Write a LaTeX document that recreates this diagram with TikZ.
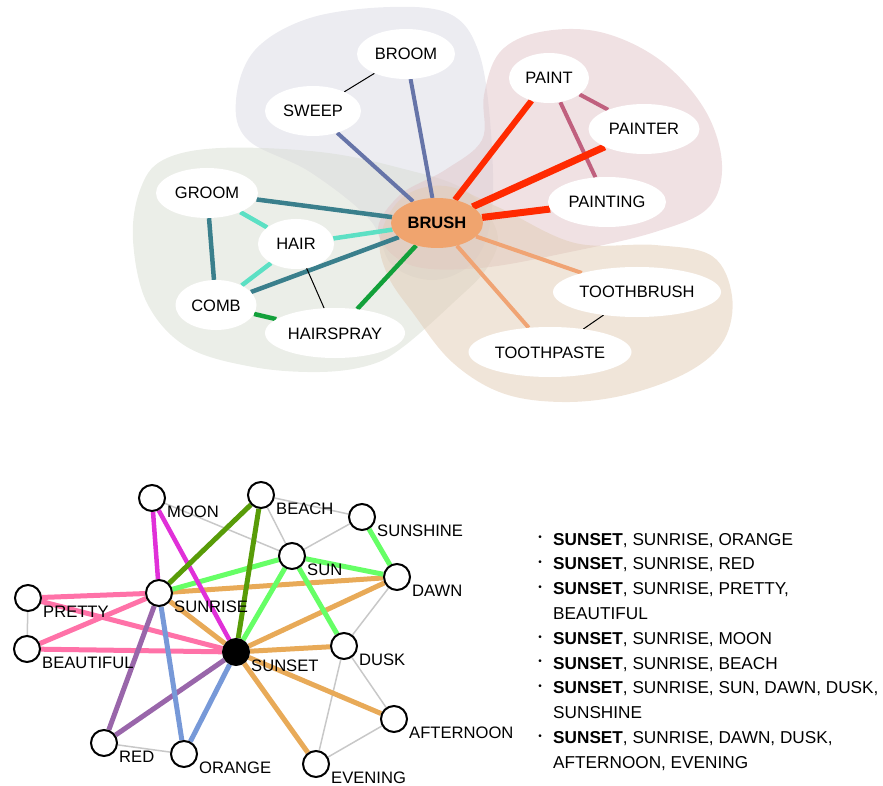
\documentclass[tikz,border=0pt]{standalone}
\usepackage{fontspec}
\setmainfont{Liberation Sans}
\usetikzlibrary{shapes.geometric}
\definecolor{lavc}{RGB}{217,217,228}
\definecolor{pinkc}{RGB}{225,196,200}
\definecolor{greenc}{RGB}{216,221,210}
\definecolor{tanc}{RGB}{226,204,180}
\definecolor{brushc}{RGB}{240,164,110}
\definecolor{slatec}{RGB}{102,116,168}
\definecolor{tealc}{RGB}{58,127,140}
\definecolor{turqc}{RGB}{92,224,196}
\definecolor{grnc}{RGB}{18,160,58}
\definecolor{redc}{RGB}{255,42,0}
\definecolor{mauvec}{RGB}{192,96,126}
\definecolor{lorc}{RGB}{240,164,116}
\definecolor{bpink}{RGB}{255,114,168}
\definecolor{bmag}{RGB}{224,48,216}
\definecolor{bdgreen}{RGB}{88,156,8}
\definecolor{blgreen}{RGB}{102,255,102}
\definecolor{btan}{RGB}{232,170,88}
\definecolor{bpurple}{RGB}{153,102,170}
\definecolor{bblue}{RGB}{119,153,216}
\definecolor{bgray}{RGB}{200,200,200}
\pgfdeclarelayer{blobs}
\pgfdeclarelayer{edges}
\pgfsetlayers{blobs,edges,main}
\begin{document}
\begin{tikzpicture}[x=1pt,y=-1pt,
  wnode/.style={ellipse, fill=white, inner sep=0pt, minimum height=50pt,
    text height=12pt, text depth=0pt, font=\fontsize{16.5}{19}\selectfont},
  cnode/.style={circle, draw=black, line width=2pt, fill=white, minimum size=26pt, inner sep=0pt},
  lbl/.style={anchor=base west, inner sep=0pt, font=\fontsize{16.6}{19}\selectfont},
  litem/.style={anchor=base west, inner sep=0pt, font=\fontsize{17.2}{20}\selectfont},
  bul/.style={anchor=base, inner sep=0pt, font=\fontsize{10}{12}\selectfont},
  thin/.style={black, line width=1pt},
  bedge/.style={line width=5pt},
  gedge/.style={bgray, line width=1.5pt}
]
\useasboundingbox (0,0) rectangle (883,786);

% ---------- top graph nodes ----------
\node[wnode, minimum width=98pt]  (broom) at (406,54) {BROOM};
\node[wnode, minimum width=96pt]  (sweep) at (313,111) {SWEEP};
\node[wnode, minimum width=102pt] (groom) at (207,193) {GROOM};
\node[wnode, minimum width=76pt]  (hair) at (296,244) {HAIR};
\node[wnode, minimum width=81pt]  (comb) at (216,305) {COMB};
\node[wnode, minimum width=140pt] (hairspray) at (335,333) {HAIRSPRAY};
\node[wnode, minimum width=92pt, fill=brushc, font=\fontsize{16.5}{19}\selectfont\bfseries] (brush) at (437,223) {BRUSH};
\node[wnode, minimum width=80pt]  (paint) at (549,78) {PAINT};
\node[wnode, minimum width=111pt] (painter) at (644,129) {PAINTER};
\node[wnode, minimum width=118pt] (painting) at (607,202) {PAINTING};
\node[wnode, minimum width=168pt] (toothbrush) at (637,292) {TOOTHBRUSH};
\node[wnode, minimum width=163pt] (toothpaste) at (550,352) {TOOTHPASTE};

\begin{pgfonlayer}{blobs}
\fill[lavc, fill opacity=.5] plot[smooth cycle, tension=.6] coordinates {(236,100) (255,50) (310,18) (390,7) (450,14) (478,50) (490,120) (492,210) (475,260) (435,280) (392,265) (370,220) (310,172) (248,140)};
\fill[greenc, fill opacity=.5] plot[smooth cycle, tension=.6] coordinates {(140,190) (163,160) (220,148) (320,152) (400,168) (465,190) (497,232) (487,268) (453,303) (403,347) (370,365) (320,372) (253,367) (187,347) (147,303) (133,240)};
\fill[pinkc, fill opacity=.5] plot[smooth cycle, tension=.6] coordinates {(484,95) (500,52) (540,32) (600,32) (660,60) (705,110) (722,165) (708,208) (655,232) (570,252) (480,268) (410,265) (378,232) (400,195) (445,170) (482,140)};
\fill[tanc, fill opacity=.5] plot[smooth cycle, tension=.6] coordinates {(380,238) (402,198) (445,186) (500,208) (575,243) (655,245) (712,256) (732,296) (724,340) (688,372) (625,395) (562,402) (502,393) (452,362) (413,313) (388,276)};
\end{pgfonlayer}

\begin{pgfonlayer}{edges}
\draw[slatec, line width=4pt] (sweep) -- (brush);
\draw[slatec, line width=4pt] (broom) -- (brush);
\draw[tealc, line width=4.5pt] (groom) -- (brush);
\draw[tealc, line width=4.5pt] (comb) -- (brush);
\draw[tealc, line width=4.5pt] (groom) -- (comb);
\draw[turqc, line width=4.5pt] (groom) -- (hair);
\draw[turqc, line width=4.5pt] (hair) -- (comb);
\draw[turqc, line width=4.5pt] (hair) -- (brush);
\draw[grnc, line width=4.5pt] (comb) -- (hairspray);
\draw[grnc, line width=4.5pt] (hairspray) -- (brush);
\draw[mauvec, line width=4pt] (paint) -- (painter);
\draw[mauvec, line width=4pt] (paint) -- (painting);
\draw[redc, line width=6pt] (paint) -- (brush);
\draw[redc, line width=7pt] (painter) -- (brush);
\draw[redc, line width=7pt] (painting) -- (brush);
\draw[lorc, line width=4pt] (toothbrush) -- (brush);
\draw[lorc, line width=4pt] (toothpaste) -- (brush);
\draw[thin] (sweep) -- (broom);
\draw[thin] (hair) -- (hairspray);
\draw[thin] (toothbrush) -- (toothpaste);
\end{pgfonlayer}

% ---------- bottom graph nodes ----------
\node[cnode] (moon) at (152,498) {};
\node[cnode] (beach) at (261,495) {};
\node[cnode] (sunshine) at (362,517) {};
\node[cnode] (sun) at (292,556) {};
\node[cnode] (dawn) at (397,577) {};
\node[cnode] (sunrise) at (159,593) {};
\node[cnode] (pretty) at (28,598) {};
\node[cnode] (beautiful) at (27,649) {};
\node[cnode, fill=black] (sunset) at (236,652) {};
\node[cnode] (dusk) at (344,646) {};
\node[cnode] (afternoon) at (394,719) {};
\node[cnode] (red) at (104,743) {};
\node[cnode] (orange) at (184,754) {};
\node[cnode] (evening) at (316,764) {};

\node[lbl] (moonL) at ([shift={(15,19)}]moon.center) {MOON};
\node[lbl] (beachL) at ([shift={(15,19)}]beach.center) {BEACH};
\node[lbl] (sunshineL) at ([shift={(15,19)}]sunshine.center) {SUNSHINE};
\node[lbl] (sunL) at ([shift={(15,19)}]sun.center) {SUN};
\node[lbl] (dawnL) at ([shift={(15,19)}]dawn.center) {DAWN};
\node[lbl] (sunriseL) at ([shift={(15,19)}]sunrise.center) {SUNRISE};
\node[lbl] (prettyL) at ([shift={(15,19)}]pretty.center) {PRETTY};
\node[lbl] (beautifulL) at ([shift={(15,19)}]beautiful.center) {BEAUTIFUL};
\node[lbl] (sunsetL) at ([shift={(15,19)}]sunset.center) {SUNSET};
\node[lbl] (duskL) at ([shift={(15,19)}]dusk.center) {DUSK};
\node[lbl] (afternoonL) at ([shift={(15,19)}]afternoon.center) {AFTERNOON};
\node[lbl] (redL) at ([shift={(15,19)}]red.center) {RED};
\node[lbl] (orangeL) at ([shift={(15,19)}]orange.center) {ORANGE};
\node[lbl] (eveningL) at ([shift={(15,19)}]evening.center) {EVENING};

\begin{pgfonlayer}{edges}
\draw[gedge] (pretty) -- (beautiful);
\draw[gedge] (red) -- (orange);
\draw[gedge] (moon) -- (sun);
\draw[gedge] (beach) -- (sun);
\draw[gedge] (beach) -- (sunshine);
\draw[gedge] (sunshine) -- (sun);
\draw[gedge] (dawn) -- (dusk);
\draw[gedge] (dusk) -- (evening);
\draw[gedge] (dusk) -- (afternoon);
\draw[gedge] (afternoon) -- (evening);
\draw[bedge, btan] (sunrise) -- (dawn);
\draw[bedge, btan] (sunset) -- (dawn);
\draw[bedge, btan] (sunset) -- (dusk);
\draw[bedge, btan] (sunset) -- (afternoon);
\draw[bedge, btan] (sunset) -- (evening);
\draw[bedge, btan] (sunrise) -- (sunset);
\draw[bedge, blgreen] (sunrise) -- (sun);
\draw[bedge, blgreen] (sun) -- (sunset);
\draw[bedge, blgreen] (sun) -- (dawn);
\draw[bedge, blgreen] (sun) -- (dusk);
\draw[bedge, blgreen] (sunshine) -- (dawn);
\draw[bedge, bpink] (pretty) -- (sunrise);
\draw[bedge, bpink] (pretty) -- (sunset);
\draw[bedge, bpink] (beautiful) -- (sunrise);
\draw[bedge, bpink] (beautiful) -- (sunset);
\draw[bedge, bpurple] (sunrise) -- (red);
\draw[bedge, bpurple] (sunset) -- (red);
\draw[bedge, bblue] (sunrise) -- (orange);
\draw[bedge, bblue] (sunset) -- (orange);
\draw[bedge, bmag, line width=4.5pt] (moon) -- (sunrise);
\draw[bedge, bmag, line width=4.5pt] (moon) -- (sunset);
\draw[bedge, bdgreen] (beach) -- (sunrise);
\draw[bedge, bdgreen] (beach) -- (sunset);
\end{pgfonlayer}

% ---------- list ----------
\node[bul] (b1) at (540,540.8) {•};
\node[litem] (l1) at (553,545) {\textbf{SUNSET}, SUNRISE, ORANGE};
\node[bul] (b2) at (540,565.6) {•};
\node[litem] (l2) at (553,569.8) {\textbf{SUNSET}, SUNRISE, RED};
\node[bul] (b3) at (540,590.4) {•};
\node[litem] (l3) at (553,594.6) {\textbf{SUNSET}, SUNRISE, PRETTY,};
\node[litem] (l4) at (553,619.4) {BEAUTIFUL};
\node[bul] (b4) at (540,640.0) {•};
\node[litem] (l5) at (553,644.2) {\textbf{SUNSET}, SUNRISE, MOON};
\node[bul] (b5) at (540,664.8) {•};
\node[litem] (l6) at (553,669.0) {\textbf{SUNSET}, SUNRISE, BEACH};
\node[bul] (b6) at (540,689.6) {•};
\node[litem] (l7) at (553,693.8) {\textbf{SUNSET}, SUNRISE, SUN, DAWN, DUSK,};
\node[litem] (l8) at (553,718.6) {SUNSHINE};
\node[bul] (b7) at (540,739.2) {•};
\node[litem] (l9) at (553,743.4) {\textbf{SUNSET}, SUNRISE, DAWN, DUSK,};
\node[litem] (l10) at (553,768.2) {AFTERNOON, EVENING};
\end{tikzpicture}
\end{document}
